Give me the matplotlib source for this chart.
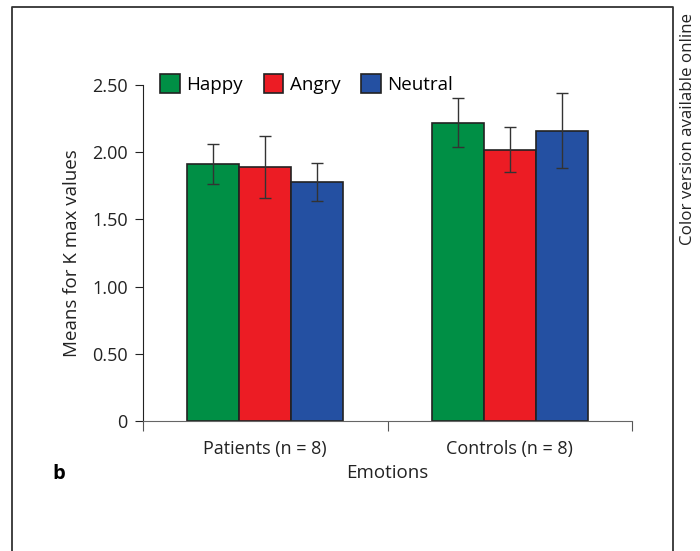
import matplotlib.pyplot as plt
from matplotlib.lines import Line2D
import numpy as np

plt.rcParams['font.family'] = ['Open Sans', 'DejaVu Sans']

groups = ["Patients (n = 8)", "Controls (n = 8)"]
emotions = ["Happy", "Angry", "Neutral"]
happy = [1.91, 2.22]
angry = [1.89, 2.02]
neutral = [1.78, 2.16]
happy_err = [0.15, 0.185]
angry_err = [0.23, 0.165]
neutral_err = [0.14, 0.28]
colors = ["#008f45", "#ec1c24", "#2450a2"]

fig = plt.figure(figsize=(7, 5.51), dpi=100)
ax = fig.add_axes([143/700, 1-421/551, (632-143)/700, (421-85)/551])

x = np.arange(len(groups))
w = 0.212
series = [happy, angry, neutral]
errs = [happy_err, angry_err, neutral_err]
for i in range(3):
    ax.bar(x + (i-1)*w, series[i], w, color=colors[i], edgecolor="#222222",
           linewidth=1.2, label=emotions[i], zorder=2)
    ax.errorbar(x + (i-1)*w, series[i], yerr=errs[i], fmt="none",
                ecolor="#333333", elinewidth=1, capsize=4, capthick=1, zorder=3)

ax.set_xlim(-0.5, 1.5)
ax.set_ylim(0, 2.5)
ax.set_yticks([0, 0.5, 1.0, 1.5, 2.0, 2.5])
ax.set_yticklabels(["0", "0.50", "1.00", "1.50", "2.00", "2.50"])
ax.set_xticks([-0.5, 0.5, 1.5], minor=False)
ax.set_xticklabels(["", "", ""])
ax.set_xticks(x, minor=True)
ax.set_xticklabels(groups, minor=True)
ax.tick_params(axis="x", which="minor", length=0, pad=14, labelsize=13, colors="#222222")
ax.tick_params(axis="x", which="major", length=7, direction="out", color="#555555")
ax.tick_params(axis="y", length=6, direction="out", labelsize=13, colors="#222222", pad=5)
ax.spines["top"].set_visible(False)
ax.spines["right"].set_visible(False)
ax.spines["bottom"].set_color("#666666")
ax.spines["left"].set_color("#222222")
ax.set_ylabel("Means for K max values", fontsize=13.5, color="#222222", labelpad=8)
ax.set_xlabel("Emotions", fontsize=13.5, color="#222222", labelpad=4)

ax.legend(ncol=3, loc="lower left", bbox_to_anchor=(0.02, 0.952), frameon=False,
          fontsize=13.5, handlelength=1.05, handleheight=1.2, handletextpad=0.35,
          columnspacing=1.1, borderaxespad=0)

fig.text(52/700, 1-474/551, "b", fontsize=14.5, fontweight="bold", va="center", ha="left")
fig.text(688/700, 1-129/551, "Color version available online", rotation=90,
         fontsize=12.2, va="center", ha="center", color="#222222")

fig.add_artist(Line2D([12/700, 12/700, 673/700, 673/700], [0, 1-7/551, 1-7/551, 0],
                      color="#333333", linewidth=1.3, transform=fig.transFigure))

fig.savefig("out.png")
